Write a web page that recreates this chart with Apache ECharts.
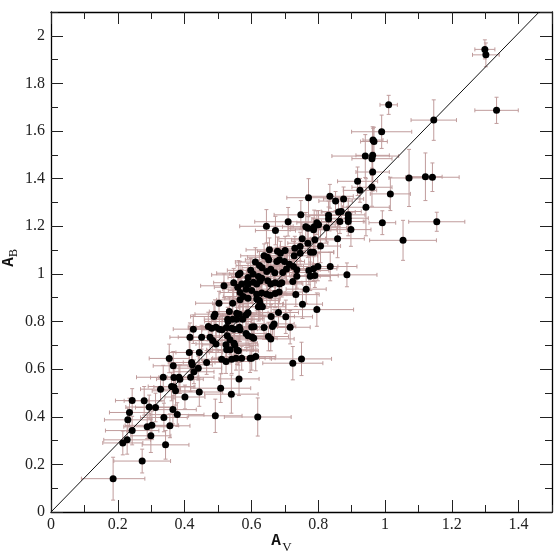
<!DOCTYPE html>
<html>
<head>
<meta charset="utf-8">
<script src="https://cdn.jsdelivr.net/npm/echarts@6/dist/echarts.min.js"></script>
<style>
html,body{margin:0;padding:0;background:#fff;}
#chart{width:560px;height:559px;}
</style>
</head>
<body>
<div id="chart"></div>
<script>
// A_V values
const avValues = [
1.299,1.302,1.334,1.011,1.146,0.990,0.964,0.967,0.941,0.963,0.961,0.963,0.918,0.925,0.961,1.072,1.121,1.142,1.016,0.943,0.992,1.155,1.054,
0.771,0.835,0.852,0.876,0.748,0.861,0.869,0.890,0.890,0.890,0.898,0.865,0.831,0.831,0.710,0.763,0.770,0.788,0.796,0.801,0.786,0.825,0.858,0.807,0.790,0.769,0.752,0.746,0.730,0.701,0.687,0.728,0.746,0.777,0.786,0.836,0.886,0.699,0.714,0.726,0.736,0.705,0.694,0.772,0.786,0.799,0.736,0.776,0.790,
0.645,0.672,0.654,0.678,0.638,0.648,0.652,0.676,0.684,0.624,0.632,0.621,0.631,0.646,0.658,0.670,0.561,0.566,0.590,0.605,0.612,0.598,
0.649,0.658,0.671,0.684,0.691,0.724,0.764,0.733,0.753,0.796,0.601,0.616,0.631,0.646,0.656,0.671,0.683,0.606,0.616,0.626,0.616,0.624,0.626,0.621,0.633,0.681,0.703,0.659,0.668,0.663,0.716,0.608,0.601,0.638,0.651,0.658,0.602,0.607,0.613,0.601,0.724,0.750,
0.518,0.547,0.559,0.571,0.584,0.566,0.587,0.590,0.503,0.544,0.566,0.576,0.590,0.491,0.488,0.534,0.529,0.556,0.564,0.574,0.556,0.544,0.584,0.590,0.530,0.471,0.481,0.494,0.504,0.512,0.525,0.541,0.548,0.564,0.566,0.584,0.590,0.426,0.528,0.536,0.548,0.416,0.451,0.476,0.484,0.494,0.524,0.526,0.550,0.557,0.536,0.414,0.444,0.511,0.524,0.561,0.571,0.354,0.421,0.423,0.466,0.366,0.441,0.596,
0.186,0.273,0.215,0.228,0.243,0.230,0.235,0.243,0.279,0.294,0.313,0.288,0.302,0.299,0.343,0.356,0.338,0.378,0.365,0.328,0.361,0.368,0.373,0.336,0.368,0.383,0.386,0.401,0.418,0.428,0.444,0.492,0.508,0.540,0.563,0.619,0.541,0.554
];
// A_B values
const abValues = [
1.943,1.920,1.687,1.710,1.646,1.597,1.562,1.556,1.495,1.498,1.484,1.428,1.389,1.351,1.364,1.403,1.408,1.406,1.336,1.280,1.215,1.219,1.141,
1.320,1.326,1.306,1.315,1.248,1.260,1.262,1.248,1.234,1.220,1.186,1.220,1.246,1.231,1.219,1.198,1.192,1.198,1.215,1.206,1.185,1.194,1.148,1.117,1.143,1.129,1.148,1.115,1.108,1.098,1.087,1.076,1.087,1.091,1.091,1.031,0.996,1.052,1.041,1.031,1.017,1.021,1.006,1.014,1.022,1.031,0.990,0.990,0.993,
1.200,1.182,1.101,1.095,1.076,1.070,1.059,1.052,1.059,1.035,1.026,0.989,0.982,1.010,1.020,1.005,0.996,1.003,0.985,1.000,1.050,1.015,
0.971,0.958,0.963,0.958,0.963,0.968,0.936,0.913,0.873,0.850,0.930,0.915,0.920,0.915,0.910,0.918,0.924,0.965,0.958,0.970,0.895,0.888,0.875,0.862,0.862,0.838,0.820,0.821,0.790,0.779,0.776,0.778,0.777,0.775,0.737,0.727,0.735,0.730,0.653,0.646,0.625,0.643,
0.950,0.963,0.944,0.958,0.936,0.922,0.963,0.955,0.877,0.877,0.891,0.905,0.898,0.831,0.821,0.842,0.810,0.835,0.831,0.810,0.810,0.810,0.827,0.837,0.800,0.779,0.772,0.776,0.768,0.765,0.775,0.772,0.768,0.776,0.765,0.750,0.740,0.768,0.740,0.723,0.709,0.734,0.734,0.734,0.720,0.706,0.702,0.681,0.700,0.680,0.681,0.670,0.670,0.642,0.632,0.677,0.646,0.645,0.628,0.618,0.628,0.614,0.604,0.646,
0.140,0.214,0.290,0.303,0.342,0.387,0.418,0.468,0.467,0.441,0.439,0.358,0.364,0.320,0.282,0.362,0.397,0.409,0.430,0.516,0.527,0.525,0.509,0.566,0.565,0.566,0.558,0.483,0.566,0.589,0.504,0.404,0.520,0.495,0.559,0.399,0.642,0.646
];
// A_V errors (half-widths)
const avErr = [
0.030,0.040,0.065,0.026,0.068,0.090,0.030,0.040,0.100,0.050,0.060,0.050,0.060,0.050,0.060,0.060,0.050,0.080,0.060,0.070,0.040,0.084,0.100,
0.065,0.070,0.050,0.060,0.080,0.050,0.060,0.050,0.060,0.050,0.060,0.070,0.060,0.050,0.100,0.070,0.060,0.070,0.060,0.050,0.070,0.060,0.080,0.060,0.070,0.060,0.070,0.060,0.070,0.060,0.050,0.070,0.060,0.070,0.060,0.080,0.090,0.060,0.070,0.060,0.070,0.060,0.070,0.060,0.070,0.060,0.070,0.060,0.070,
0.080,0.060,0.070,0.060,0.070,0.060,0.070,0.060,0.050,0.070,0.060,0.080,0.070,0.060,0.070,0.060,0.080,0.070,0.060,0.070,0.060,0.070,
0.060,0.070,0.060,0.070,0.060,0.070,0.060,0.070,0.060,0.110,0.070,0.060,0.070,0.060,0.070,0.060,0.070,0.060,0.070,0.060,0.070,0.060,0.070,0.060,0.070,0.060,0.080,0.070,0.060,0.070,0.060,0.070,0.060,0.070,0.060,0.070,0.060,0.070,0.060,0.070,0.090,0.090,
0.070,0.060,0.070,0.060,0.070,0.060,0.070,0.060,0.070,0.060,0.070,0.060,0.070,0.060,0.070,0.060,0.070,0.060,0.070,0.060,0.070,0.060,0.070,0.060,0.070,0.060,0.070,0.060,0.070,0.060,0.070,0.060,0.070,0.060,0.070,0.060,0.070,0.060,0.070,0.060,0.070,0.060,0.070,0.060,0.070,0.060,0.070,0.060,0.070,0.060,0.070,0.060,0.070,0.060,0.070,0.060,0.070,0.060,0.070,0.060,0.070,0.060,0.070,0.060,
0.095,0.085,0.060,0.070,0.080,0.070,0.060,0.050,0.060,0.070,0.060,0.070,0.080,0.060,0.070,0.060,0.070,0.080,0.070,0.060,0.070,0.060,0.070,0.080,0.070,0.060,0.070,0.060,0.070,0.060,0.070,0.080,0.090,0.080,0.060,0.100,0.060,0.070
];
// A_B errors (half-heights)
const abErr = [
0.040,0.050,0.055,0.040,0.085,0.070,0.050,0.060,0.090,0.120,0.070,0.080,0.060,0.050,0.080,0.120,0.100,0.060,0.070,0.120,0.050,0.040,0.084,
0.080,0.050,0.040,0.050,0.060,0.060,0.050,0.070,0.050,0.060,0.070,0.050,0.060,0.050,0.060,0.060,0.050,0.070,0.050,0.060,0.050,0.060,0.080,0.070,0.050,0.060,0.050,0.060,0.050,0.060,0.050,0.060,0.050,0.060,0.050,0.060,0.050,0.060,0.050,0.060,0.050,0.060,0.050,0.060,0.050,0.060,0.050,0.060,0.050,
0.070,0.060,0.050,0.060,0.050,0.060,0.050,0.060,0.050,0.060,0.050,0.060,0.050,0.060,0.050,0.060,0.060,0.050,0.060,0.050,0.060,0.050,
0.060,0.050,0.060,0.050,0.060,0.050,0.060,0.050,0.060,0.070,0.050,0.060,0.050,0.060,0.050,0.060,0.050,0.060,0.050,0.060,0.050,0.060,0.050,0.060,0.050,0.060,0.070,0.050,0.060,0.050,0.070,0.050,0.060,0.050,0.060,0.050,0.060,0.050,0.060,0.050,0.070,0.070,
0.050,0.060,0.050,0.060,0.050,0.060,0.050,0.060,0.050,0.060,0.050,0.060,0.050,0.060,0.050,0.060,0.050,0.060,0.050,0.060,0.050,0.060,0.050,0.060,0.050,0.060,0.050,0.060,0.050,0.060,0.050,0.060,0.050,0.060,0.050,0.060,0.050,0.060,0.050,0.060,0.050,0.060,0.050,0.060,0.050,0.060,0.050,0.060,0.050,0.060,0.050,0.060,0.050,0.060,0.050,0.060,0.050,0.060,0.050,0.060,0.050,0.060,0.050,0.060,
0.090,0.050,0.050,0.060,0.060,0.050,0.060,0.050,0.060,0.050,0.060,0.050,0.060,0.070,0.060,0.050,0.060,0.050,0.060,0.050,0.060,0.050,0.060,0.050,0.060,0.050,0.060,0.050,0.060,0.050,0.060,0.070,0.060,0.080,0.070,0.080,0.060,0.050
];
// reference line (through origin)
const lineAv = [0, 1.4615];
const lineAb = [0, 2.1];

const n = Math.min(avValues.length, abValues.length, avErr.length, abErr.length);
const points = [], bars = [];
for (let i = 0; i < n; i++) {
  points.push([avValues[i], abValues[i]]);
  bars.push([avValues[i], abValues[i], avErr[i], abErr[i]]);
}
const linePts = lineAv.map((v, i) => [v, lineAb[i]]);

const SERIF = 'Liberation Serif';
const MONO = 'Liberation Mono';
const BAR = '#c09c9c';
function majorAxis(pos, min, max, showLabel, isX) {
  return {
    type: 'value', gridIndex: 0, position: pos, min: min, max: max, interval: 0.2,
    axisLine: { show: true, onZero: false, lineStyle: { color: '#000', width: 1.3 } },
    axisTick: { show: true, inside: true, length: 12, lineStyle: { color: '#222', width: 1 } },
    axisLabel: { show: showLabel, showMaxLabel: false, margin: isX ? 5 : 6,
      fontFamily: SERIF, fontSize: 16, color: '#222' },
    splitLine: { show: false }
  };
}
function minorAxis(pos, min, max) {
  return {
    type: 'value', gridIndex: 1, position: pos, min: min, max: max, interval: 0.1,
    axisLine: { show: false, onZero: false },
    axisTick: { show: true, inside: true, length: 7, lineStyle: { color: '#222', width: 1 } },
    axisLabel: { show: false },
    splitLine: { show: false }
  };
}
const gridRect = { left: 51, right: 8, top: 12, bottom: 47 };

const chart = echarts.init(document.getElementById('chart'), null, { renderer: 'canvas' });
chart.setOption({
  animation: false,
  backgroundColor: '#fff',
  grid: [Object.assign({}, gridRect), Object.assign({}, gridRect)],
  xAxis: [
    majorAxis('bottom', 0, 1.5, true, true),
    majorAxis('top', 0, 1.5, false, true),
    minorAxis('bottom', 0, 1.5),
    minorAxis('top', 0, 1.5)
  ],
  yAxis: [
    majorAxis('left', 0, 2.1, true, false),
    majorAxis('right', 0, 2.1, false, false),
    minorAxis('left', 0, 2.1),
    minorAxis('right', 0, 2.1)
  ],
  graphic: [
    { type: 'text', x: 276, y: 541, style: { text: 'A', fontFamily: MONO, fontWeight: 'bold', fontSize: 16, fill: '#111', align: 'center', verticalAlign: 'middle' } },
    { type: 'text', x: 287, y: 548, style: { text: 'V', fontFamily: SERIF, fontSize: 13, fill: '#111', align: 'center', verticalAlign: 'middle' } },
    { type: 'group', x: 9, y: 262, rotation: Math.PI / 2, children: [
      { type: 'text', x: 0, y: 0, style: { text: 'A', fontFamily: MONO, fontWeight: 'bold', fontSize: 16, fill: '#111', align: 'center', verticalAlign: 'middle' } },
      { type: 'text', x: 9, y: 5, style: { text: 'B', fontFamily: SERIF, fontSize: 12, fill: '#111', align: 'center', verticalAlign: 'middle' } }
    ]}
  ],
  series: [
    {
      type: 'custom', xAxisIndex: 0, yAxisIndex: 0, z: 1, silent: true, clip: true,
      data: bars,
      encode: { x: 0, y: 1 },
      renderItem: function (params, api) {
        const x = api.value(0), y = api.value(1), ex = api.value(2), ey = api.value(3);
        const l = api.coord([x - ex, y]), r = api.coord([x + ex, y]);
        const t = api.coord([x, y + ey]), b = api.coord([x, y - ey]);
        const cap = 2;
        const st = { stroke: BAR, lineWidth: 1 };
        return { type: 'group', children: [
          { type: 'line', shape: { x1: l[0], y1: l[1], x2: r[0], y2: r[1] }, style: st },
          { type: 'line', shape: { x1: l[0], y1: l[1] - cap, x2: l[0], y2: l[1] + cap }, style: st },
          { type: 'line', shape: { x1: r[0], y1: r[1] - cap, x2: r[0], y2: r[1] + cap }, style: st },
          { type: 'line', shape: { x1: t[0], y1: t[1], x2: b[0], y2: b[1] }, style: st },
          { type: 'line', shape: { x1: t[0] - cap, y1: t[1], x2: t[0] + cap, y2: t[1] }, style: st },
          { type: 'line', shape: { x1: b[0] - cap, y1: b[1], x2: b[0] + cap, y2: b[1] }, style: st }
        ]};
      }
    },
    {
      type: 'line', xAxisIndex: 0, yAxisIndex: 0, z: 2, silent: true,
      data: linePts, symbol: 'none',
      lineStyle: { color: '#111', width: 1 }
    },
    {
      type: 'scatter', xAxisIndex: 0, yAxisIndex: 0, z: 3, silent: true,
      data: points, symbol: 'circle', symbolSize: 7,
      itemStyle: { color: '#000', opacity: 1 }
    }
  ]
});
</script>
</body>
</html>
